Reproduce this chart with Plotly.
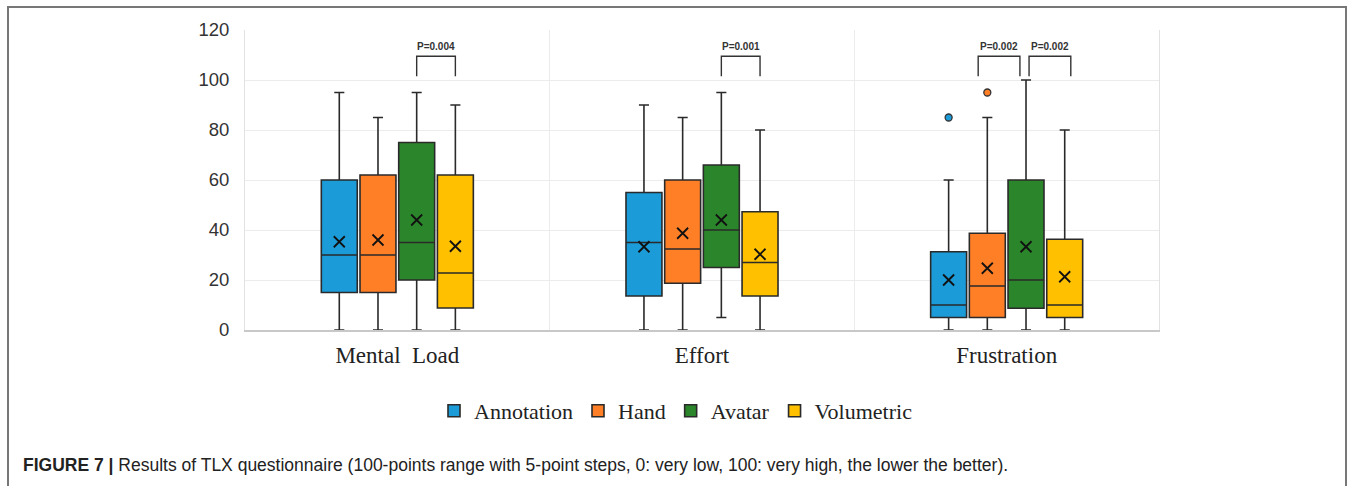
import plotly.graph_objects as go

categories = ["Mental  Load", "Effort", "Frustration"]
series = ["Annotation", "Hand", "Avatar", "Volumetric"]
colors = ["#1b9bd7", "#ff7f27", "#2b862b", "#ffc000"]

# per series: values for [Mental Load, Effort, Frustration]
lower = {"Annotation": [0, 0, 0], "Hand": [0, 0, 0], "Avatar": [0, 5, 0], "Volumetric": [0, 0, 0]}
q1 = {"Annotation": [15, 13.6, 5], "Hand": [15, 18.7, 5], "Avatar": [20, 25, 8.7], "Volumetric": [8.8, 13.6, 5]}
median = {"Annotation": [30, 35, 10], "Hand": [30, 32.4, 17.6], "Avatar": [35, 40, 20], "Volumetric": [22.8, 27, 10]}
q3 = {"Annotation": [60, 55, 31.3], "Hand": [62, 60, 38.7], "Avatar": [75, 66, 60], "Volumetric": [62, 47.3, 36.3]}
upper = {"Annotation": [95, 90, 60], "Hand": [85, 85, 85], "Avatar": [95, 95, 100], "Volumetric": [90, 80, 80]}
mean = {"Annotation": [35.3, 33.3, 20], "Hand": [36, 38.7, 24.7], "Avatar": [44, 44, 33.3], "Volumetric": [33.5, 30.3, 21.3]}
outliers = {"Annotation": [(2, 85)], "Hand": [(2, 95)], "Avatar": [], "Volumetric": []}

# significance brackets: (category index, series a, series b, label, shift a, shift b)
brackets = [
    (0, 2, 3, "P=0.004", 0.0, 0.0),
    (1, 2, 3, "P=0.001", 0.0, 0.0),
    (2, 1, 2, "P=0.002", -0.03, -0.02),
    (2, 2, 3, "P=0.002", 0.01, 0.02),
]
bracket_top = 109.5
bracket_leg = 101.5
bracket_text = 113.5

slot = 0.127
box_w = 0.118

def pos(ci, si):
    return ci + (si - 1.5) * slot

fig = go.Figure()
for si, s in enumerate(series):
    xs = [pos(ci, si) for ci in range(len(categories))]
    fig.add_trace(go.Box(
        name=s, x=xs, q1=q1[s], median=median[s], q3=q3[s],
        lowerfence=lower[s], upperfence=upper[s],
        width=box_w, whiskerwidth=0.28, boxpoints=False,
        fillcolor=colors[si], line=dict(color="#2a2a2a", width=1.6),
        showlegend=True, hoverinfo="skip",
    ))
for si, s in enumerate(series):
    xs = [pos(ci, si) for ci in range(len(categories))]
    fig.add_trace(go.Scatter(
        x=xs, y=mean[s], mode="markers", showlegend=False, hoverinfo="skip",
        marker=dict(symbol="x-thin-open", size=11, color="#111", line=dict(color="#111", width=1.8)),
    ))
    if outliers[s]:
        fig.add_trace(go.Scatter(
            x=[pos(ci, si) for ci, v in outliers[s]], y=[v for ci, v in outliers[s]],
            mode="markers", showlegend=False, hoverinfo="skip",
            marker=dict(symbol="circle", size=7, color=colors[si], line=dict(color="#333", width=1.3)),
        ))

for ci, a, b, label, da, db in brackets:
    xa = pos(ci, a) + da
    xb = pos(ci, b) + db
    fig.add_trace(go.Scatter(
        x=[xa, xa, xb, xb], y=[bracket_leg, bracket_top, bracket_top, bracket_leg],
        mode="lines", line=dict(color="#333", width=1.4), showlegend=False, hoverinfo="skip",
    ))
    fig.add_annotation(x=(xa + xb) / 2, y=bracket_text, text="<b>" + label + "</b>", showarrow=False,
                       font=dict(family="Liberation Sans", size=10, color="#333"), yanchor="middle")

L, R, T, B = 245, 1159, 30, 330
W, H = 1354, 486
def px(xp):
    return (xp - L) / (R - L)
def py(yp):
    return (B - yp) / (B - T)

fig.add_shape(type="rect", xref="paper", yref="paper", x0=px(8), x1=px(1346), y0=py(520), y1=py(7),
              line=dict(color="#777", width=2), layer="below")

fig.add_annotation(xref="paper", yref="paper", x=px(21), y=py(465), xanchor="left", yanchor="middle",
                   showarrow=False, align="left",
                   text="<b>FIGURE 7 |</b> Results of TLX questionnaire (100-points range with 5-point steps, 0: very low, 100: very high, the lower the better).",
                   font=dict(family="Liberation Sans", size=17.5, color="#222"))

fig.update_layout(
    width=W, height=H, margin=dict(l=L, r=W - R, t=T, b=H - B),
    paper_bgcolor="white", plot_bgcolor="white",
    legend=dict(orientation="h", x=px(676), xanchor="center", y=py(411), yanchor="middle",
                font=dict(family="Liberation Serif", size=22, color="#222"), itemwidth=30,
                tracegroupgap=0),
    xaxis=dict(range=[-0.5, 2.5], tickvals=list(range(len(categories))), ticktext=categories,
               showgrid=False, zeroline=False, showline=True, linecolor="#c8c8c8", linewidth=1.5,
               tickfont=dict(family="Liberation Serif", size=23, color="#222"), ticks="",
               ticklabelstandoff=4,
               minor=dict(tickmode="linear", tick0=0.5, dtick=1, showgrid=True, gridcolor="#ececec", gridwidth=1)),
    yaxis=dict(range=[0, 120], dtick=20, showgrid=True, gridcolor="#ececec", zeroline=False,
               showline=True, linecolor="#e2e2e2", mirror=True, ticks="",
               tickfont=dict(family="Liberation Sans", size=18.5, color="#333"), ticklabelstandoff=11),
)

fig.write_html("out.html")
